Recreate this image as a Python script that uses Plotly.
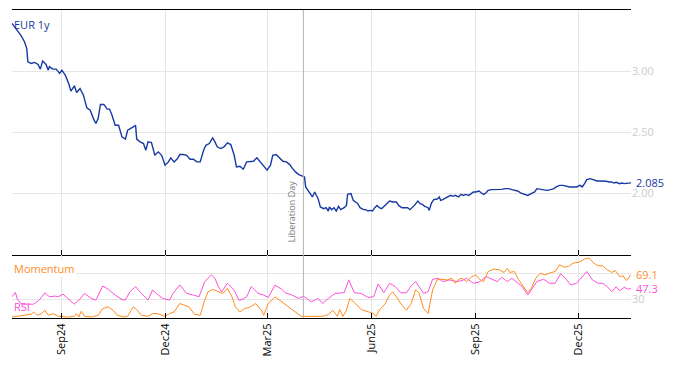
import pandas as pd
import plotly.graph_objects as go
from plotly.subplots import make_subplots

START = "2024-07-19"
EVENT_DATE = "2025-04-02"
EVENT_LABEL = "Liberation Day"

EUR_DAY = [0,8,11,13,14,17,20,23,25,27,30,32,33,36,39,42,44,47,50,52,55,57,60,63,66,69,72,74,76,78,
           81,84,86,88,91,94,97,100,102,104,107,109,110,113,116,118,120,123,126,129,132,135,138,140,143,146,148,151,154,157,
           160,163,166,169,171,174,177,179,181,184,187,190,193,196,198,201,204,207,210,213,216,219,222,225,228,230,233,236,239,242,
           245,247,250,253,256,258,259,262,265,267,270,272,
           275,277,279,280,282,284,286,288,290,293,295,296,299,301,303,305,307,310,312,314,
           316,318,320,322,324,326,329,331,333,336,339,341,344,346,349,351,353,355,358,360,
           362,364,367,368,370,372,375,377,378,380,383,385,387,389,391,394,396,398,400,403,
           405,407,409,412,414,416,418,420,423,426,429,432,435,438,441,443,446,449,452,455,
           458,461,463,466,469,472,475,478,480,483,486,489,492,495,498,501,503,505,507,510,
           513,516,519,522,524,527,529,531,533,536,538,540,543,546]
EUR_1Y = [3.391,3.290,3.240,3.186,3.076,3.063,3.071,3.055,3.016,3.082,3.055,3.008,3.036,3.016,3.016,2.981,3.008,2.967,2.899,2.836,
          2.880,2.825,2.858,2.803,2.699,2.680,2.607,2.571,2.612,2.727,2.727,2.689,2.689,2.645,2.557,2.557,2.462,2.443,2.516,2.530,
          2.544,2.557,2.443,2.421,2.407,2.352,2.421,2.415,2.311,2.339,2.311,2.230,2.257,2.290,2.257,2.284,2.317,2.317,2.311,2.279,
          2.279,2.257,2.257,2.352,2.393,2.407,2.454,2.421,2.380,2.366,2.380,2.413,2.399,2.311,2.216,2.221,2.197,2.257,2.262,2.262,
          2.290,2.257,2.230,2.189,2.230,2.311,2.317,2.290,2.262,2.257,2.235,2.208,2.175,2.153,2.139,2.134,2.052,2.016,1.970,2.011,
          1.956,1.888,
          1.874,1.882,1.855,1.888,1.866,1.882,1.855,1.893,1.866,1.882,1.901,1.991,1.997,1.942,1.929,1.915,1.882,1.866,1.866,1.855,
          1.860,1.855,1.882,1.901,1.882,1.874,1.901,1.920,1.937,1.929,1.929,1.901,1.882,1.882,1.882,1.866,1.882,1.901,1.937,1.915,
          1.909,1.893,1.882,1.860,1.920,1.948,1.953,1.970,1.942,1.948,1.964,1.975,1.983,1.975,1.983,1.970,1.991,1.983,1.991,1.983,
          1.997,2.011,2.011,2.019,2.002,1.991,2.002,2.024,2.030,2.030,2.030,2.032,2.038,2.038,2.030,2.024,2.019,2.002,1.991,1.983,
          1.997,2.011,2.038,2.032,2.030,2.024,2.030,2.038,2.052,2.065,2.065,2.057,2.052,2.052,2.052,2.065,2.052,2.079,2.112,2.120,
          2.112,2.101,2.101,2.101,2.098,2.093,2.093,2.084,2.090,2.079,2.084,2.079,2.084,2.085]

RSI_DAY = [0,3,5,9,19,24,29,33,38,41,45,49,55,59,64,70,74,80,85,91,
           97,100,104,109,114,120,124,128,133,139,142,148,154,160,165,170,176,179,182,185,
           190,196,200,203,207,211,217,222,226,232,238,241,247,253,257,260,264,270,274,279,
           285,293,297,302,308,314,319,323,328,333,338,343,348,352,356,359,363,367,371,376,
           380,386,392,397,401,407,413,418,422,428,432,437,441,445,450,455,458,463,469,474,
           479,484,488,493,498,502,507,512,517,521,525,529,533,536,540,544,546]
RSI = [33.7,40.7,28.4,21.9,21.9,28.4,40.1,33.7,34.8,33.7,38.0,31.0,21.9,28.4,39.1,31.0,28.4,50.8,45.5,36.4,
       29.4,28.4,41.7,49.8,39.1,28.4,44.4,38.0,31.0,28.4,39.1,52.4,39.1,36.4,33.7,57.8,68.5,63.1,49.8,41.7,
       55.1,44.4,28.4,29.4,33.7,49.8,39.1,36.4,32.6,52.4,45.5,40.1,36.4,31.0,34.8,31.0,25.7,31.0,23.0,31.0,
       39.1,40.1,60.5,40.1,39.1,32.6,33.7,54.0,40.1,55.1,49.8,40.1,40.1,50.8,57.8,49.8,39.1,41.7,61.5,63.1,
       57.8,60.5,57.8,59.4,63.1,55.1,57.8,65.8,63.1,57.8,64.7,57.8,63.1,57.8,49.8,36.4,44.4,57.8,61.5,55.1,
       55.1,70.1,63.1,52.4,55.1,63.1,73.8,60.5,55.1,55.1,49.8,41.7,49.8,43.3,48.7,45.5,47.3]

MOM_DAY = [0,11,17,19,22,26,29,32,36,41,49,55,57,59,61,64,70,76,80,85,
           89,93,99,102,107,110,114,120,124,128,135,139,143,148,152,156,161,166,170,173,
           177,182,186,190,194,197,201,205,209,215,220,222,226,232,238,243,251,255,260,266,
           274,279,283,287,289,292,295,298,303,308,314,319,321,325,329,333,336,340,344,348,
           352,356,359,363,367,371,375,378,384,388,391,394,397,401,405,409,413,416,420,425,
           430,434,437,439,443,447,451,455,458,462,466,470,474,479,483,487,491,495,500,505,
           509,513,517,521,525,529,532,536,539,542,546]
MOMENTUM = [1.6,4.3,5.9,9.6,4.3,7.0,12.3,4.3,7.0,2.7,1.6,2.7,7.0,1.6,10.7,2.7,1.6,4.3,15.0,17.7,
            12.3,4.3,1.6,2.7,17.7,13.4,4.3,2.7,7.0,7.0,2.7,7.0,9.6,23.0,20.3,17.7,5.9,4.3,28.4,41.7,
            45.5,41.7,39.1,47.1,33.7,17.7,9.6,15.0,16.6,23.0,12.3,4.3,23.0,33.7,25.7,17.7,7.0,2.7,2.7,2.7,
            2.7,5.4,12.3,2.7,13.4,2.7,12.3,31.0,23.0,13.4,9.6,7.0,2.7,15.0,21.9,36.4,41.7,31.0,20.3,12.3,
            23.0,44.4,40.1,15.0,7.0,44.4,60.5,61.5,60.5,63.1,55.1,61.5,63.1,57.8,64.7,68.5,60.5,57.8,73.8,77.6,
            76.5,72.2,79.2,72.2,73.8,60.5,49.8,40.1,47.1,63.1,71.2,68.5,71.2,73.8,84.5,80.8,81.9,87.2,88.3,93.6,
            95.2,87.2,82.9,82.9,76.5,72.2,75.4,65.8,66.9,59.4,69.1]

BLUE = "#1739a3"
ORANGE = "#ff8c1f"
PINK = "#ff4fd8"
GRID = "#e6e6e6"
LABEL = "#cccccc"
FONT = "Open Sans, Arial, sans-serif"


def to_dates(days):
    return pd.Timestamp(START) + pd.to_timedelta(days, unit="D")


eur_x = to_dates(EUR_DAY)
rsi_x = to_dates(RSI_DAY)
mom_x = to_dates(MOM_DAY)

fig = make_subplots(rows=2, cols=1, shared_xaxes=True, vertical_spacing=0,
                    row_heights=[245 / 308, 63 / 308])

fig.add_trace(go.Scatter(x=eur_x, y=EUR_1Y, mode="lines", name="EUR 1y",
                         line=dict(color=BLUE, width=1.4)), row=1, col=1)
fig.add_trace(go.Scatter(x=rsi_x, y=RSI, mode="lines", name="RSI",
                         line=dict(color=PINK, width=1)), row=2, col=1)
fig.add_trace(go.Scatter(x=mom_x, y=MOMENTUM, mode="lines", name="Momentum",
                         line=dict(color=ORANGE, width=1)), row=2, col=1)

xr = [eur_x[0], eur_x[-1]]
xcommon = dict(showline=True, linecolor="black", linewidth=1,
               ticks="inside", ticklen=5, tickcolor="black", showgrid=True,
               gridcolor=GRID, dtick="M3", tick0="2024-09-01", range=xr, zeroline=False)
fig.update_xaxes(**xcommon, mirror=True, showticklabels=False, row=1, col=1)
fig.update_xaxes(**xcommon, mirror=False, showticklabels=True, tickformat="%b%y", tickangle=-90,
                 tickfont=dict(size=11, color="black", family=FONT), row=2, col=1)

fig.update_yaxes(side="right", range=[1.495, 3.5], tickvals=[2.0, 2.5, 3.0], tickformat=".2f",
                 tickfont=dict(size=11, color=LABEL, family=FONT), showgrid=True, gridcolor=GRID,
                 zeroline=False, showline=False, ticks="", row=1, col=1)
fig.update_yaxes(side="right", range=[0, 100], tickvals=[30, 70], ticktext=["30", ""],
                 tickfont=dict(size=11, color=LABEL, family=FONT), showgrid=True, gridcolor=GRID,
                 zeroline=False, showline=False, ticks="", row=2, col=1)

fig.add_shape(type="line", xref="x", yref="paper", x0=EVENT_DATE, x1=EVENT_DATE, y0=0, y1=1,
              line=dict(color="#b3b3b3", width=1))

ann = [
    dict(text="EUR 1y", xref="x domain", yref="y domain", x=0, y=0.939, xanchor="left",
         yanchor="middle", showarrow=False, font=dict(size=11, color=BLUE)),
    dict(text="Momentum", xref="x2 domain", yref="y2 domain", x=0, y=0.79, xanchor="left",
         yanchor="middle", showarrow=False, bgcolor="white", font=dict(size=11, color=ORANGE)),
    dict(text="RSI", xref="x2 domain", yref="y2 domain", x=0, y=0.19, xanchor="left",
         yanchor="middle", showarrow=False, font=dict(size=11, color=PINK)),
    dict(text=f"{EUR_1Y[-1]:.3f}", xref="x domain", yref="y", x=1, y=EUR_1Y[-1], xanchor="left",
         yanchor="middle", xshift=3, showarrow=False, font=dict(size=11, color=BLUE)),
    dict(text=f"{MOMENTUM[-1]:.1f}", xref="x2 domain", yref="y2", x=1, y=MOMENTUM[-1], xanchor="left",
         yanchor="middle", xshift=3, showarrow=False, font=dict(size=11, color=ORANGE)),
    dict(text=f"{RSI[-1]:.1f}", xref="x2 domain", yref="y2", x=1, y=RSI[-1], xanchor="left",
         yanchor="middle", xshift=3, showarrow=False, font=dict(size=11, color=PINK)),
    dict(text=EVENT_LABEL, xref="x", yref="y domain", x=EVENT_DATE, y=0.045, xanchor="right",
         yanchor="bottom", xshift=-3, textangle=-90, showarrow=False,
         font=dict(size=9, color="#777777")),
]
for a in ann:
    fig.add_annotation(**a)

# page body has an 8px default margin, so the figure is sized to fit the window
fig.update_layout(width=666, height=358, margin=dict(l=4, r=43, t=2, b=48),
                  paper_bgcolor="white", plot_bgcolor="white", showlegend=False,
                  font=dict(family=FONT, size=11))

fig.write_html("out.html")
